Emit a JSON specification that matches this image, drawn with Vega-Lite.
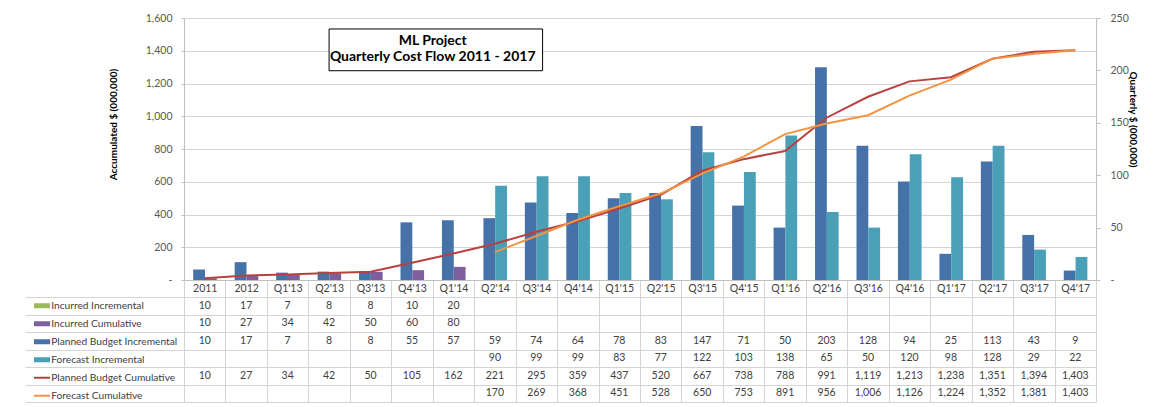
{
  "$schema": "https://vega.github.io/schema/vega-lite/v6.json",
  "background": "white",
  "padding": {"left": 24, "top": 13, "right": 5, "bottom": 2},
  "bounds": "flush",
  "spacing": 17,
  "config": {
    "font": "Lato",
    "view": {"stroke": null},
    "axis": {"labelFont": "Lato", "labelFontSize": 10.5, "labelColor": "#595959", "titleFont": "Lato", "titleFontSize": 10, "titleFontWeight": "bold", "titleColor": "#000000", "gridColor": "#d4d4d4", "domainColor": "#bfbfbf", "tickColor": "#bfbfbf"}
  },
  "data": {"values": [
    {"q": "2011", "s": "Incurred Incremental", "v": 10},
    {"q": "2012", "s": "Incurred Incremental", "v": 17},
    {"q": "Q1'13", "s": "Incurred Incremental", "v": 7},
    {"q": "Q2'13", "s": "Incurred Incremental", "v": 8},
    {"q": "Q3'13", "s": "Incurred Incremental", "v": 8},
    {"q": "Q4'13", "s": "Incurred Incremental", "v": 10},
    {"q": "Q1'14", "s": "Incurred Incremental", "v": 20},
    {"q": "2011", "s": "Incurred Cumulative", "v": 10},
    {"q": "2012", "s": "Incurred Cumulative", "v": 27},
    {"q": "Q1'13", "s": "Incurred Cumulative", "v": 34},
    {"q": "Q2'13", "s": "Incurred Cumulative", "v": 42},
    {"q": "Q3'13", "s": "Incurred Cumulative", "v": 50},
    {"q": "Q4'13", "s": "Incurred Cumulative", "v": 60},
    {"q": "Q1'14", "s": "Incurred Cumulative", "v": 80},
    {"q": "2011", "s": "Planned Budget Incremental", "v": 10},
    {"q": "2012", "s": "Planned Budget Incremental", "v": 17},
    {"q": "Q1'13", "s": "Planned Budget Incremental", "v": 7},
    {"q": "Q2'13", "s": "Planned Budget Incremental", "v": 8},
    {"q": "Q3'13", "s": "Planned Budget Incremental", "v": 8},
    {"q": "Q4'13", "s": "Planned Budget Incremental", "v": 55},
    {"q": "Q1'14", "s": "Planned Budget Incremental", "v": 57},
    {"q": "Q2'14", "s": "Planned Budget Incremental", "v": 59},
    {"q": "Q3'14", "s": "Planned Budget Incremental", "v": 74},
    {"q": "Q4'14", "s": "Planned Budget Incremental", "v": 64},
    {"q": "Q1'15", "s": "Planned Budget Incremental", "v": 78},
    {"q": "Q2'15", "s": "Planned Budget Incremental", "v": 83},
    {"q": "Q3'15", "s": "Planned Budget Incremental", "v": 147},
    {"q": "Q4'15", "s": "Planned Budget Incremental", "v": 71},
    {"q": "Q1'16", "s": "Planned Budget Incremental", "v": 50},
    {"q": "Q2'16", "s": "Planned Budget Incremental", "v": 203},
    {"q": "Q3'16", "s": "Planned Budget Incremental", "v": 128},
    {"q": "Q4'16", "s": "Planned Budget Incremental", "v": 94},
    {"q": "Q1'17", "s": "Planned Budget Incremental", "v": 25},
    {"q": "Q2'17", "s": "Planned Budget Incremental", "v": 113},
    {"q": "Q3'17", "s": "Planned Budget Incremental", "v": 43},
    {"q": "Q4'17", "s": "Planned Budget Incremental", "v": 9},
    {"q": "Q2'14", "s": "Forecast Incremental", "v": 90},
    {"q": "Q3'14", "s": "Forecast Incremental", "v": 99},
    {"q": "Q4'14", "s": "Forecast Incremental", "v": 99},
    {"q": "Q1'15", "s": "Forecast Incremental", "v": 83},
    {"q": "Q2'15", "s": "Forecast Incremental", "v": 77},
    {"q": "Q3'15", "s": "Forecast Incremental", "v": 122},
    {"q": "Q4'15", "s": "Forecast Incremental", "v": 103},
    {"q": "Q1'16", "s": "Forecast Incremental", "v": 138},
    {"q": "Q2'16", "s": "Forecast Incremental", "v": 65},
    {"q": "Q3'16", "s": "Forecast Incremental", "v": 50},
    {"q": "Q4'16", "s": "Forecast Incremental", "v": 120},
    {"q": "Q1'17", "s": "Forecast Incremental", "v": 98},
    {"q": "Q2'17", "s": "Forecast Incremental", "v": 128},
    {"q": "Q3'17", "s": "Forecast Incremental", "v": 29},
    {"q": "Q4'17", "s": "Forecast Incremental", "v": 22},
    {"q": "2011", "s": "Planned Budget Cumulative", "v": 10},
    {"q": "2012", "s": "Planned Budget Cumulative", "v": 27},
    {"q": "Q1'13", "s": "Planned Budget Cumulative", "v": 34},
    {"q": "Q2'13", "s": "Planned Budget Cumulative", "v": 42},
    {"q": "Q3'13", "s": "Planned Budget Cumulative", "v": 50},
    {"q": "Q4'13", "s": "Planned Budget Cumulative", "v": 105},
    {"q": "Q1'14", "s": "Planned Budget Cumulative", "v": 162},
    {"q": "Q2'14", "s": "Planned Budget Cumulative", "v": 221},
    {"q": "Q3'14", "s": "Planned Budget Cumulative", "v": 295},
    {"q": "Q4'14", "s": "Planned Budget Cumulative", "v": 359},
    {"q": "Q1'15", "s": "Planned Budget Cumulative", "v": 437},
    {"q": "Q2'15", "s": "Planned Budget Cumulative", "v": 520},
    {"q": "Q3'15", "s": "Planned Budget Cumulative", "v": 667},
    {"q": "Q4'15", "s": "Planned Budget Cumulative", "v": 738},
    {"q": "Q1'16", "s": "Planned Budget Cumulative", "v": 788},
    {"q": "Q2'16", "s": "Planned Budget Cumulative", "v": 991},
    {"q": "Q3'16", "s": "Planned Budget Cumulative", "v": 1119},
    {"q": "Q4'16", "s": "Planned Budget Cumulative", "v": 1213},
    {"q": "Q1'17", "s": "Planned Budget Cumulative", "v": 1238},
    {"q": "Q2'17", "s": "Planned Budget Cumulative", "v": 1351},
    {"q": "Q3'17", "s": "Planned Budget Cumulative", "v": 1394},
    {"q": "Q4'17", "s": "Planned Budget Cumulative", "v": 1403},
    {"q": "Q2'14", "s": "Forecast Cumulative", "v": 170},
    {"q": "Q3'14", "s": "Forecast Cumulative", "v": 269},
    {"q": "Q4'14", "s": "Forecast Cumulative", "v": 368},
    {"q": "Q1'15", "s": "Forecast Cumulative", "v": 451},
    {"q": "Q2'15", "s": "Forecast Cumulative", "v": 528},
    {"q": "Q3'15", "s": "Forecast Cumulative", "v": 650},
    {"q": "Q4'15", "s": "Forecast Cumulative", "v": 753},
    {"q": "Q1'16", "s": "Forecast Cumulative", "v": 891},
    {"q": "Q2'16", "s": "Forecast Cumulative", "v": 956},
    {"q": "Q3'16", "s": "Forecast Cumulative", "v": 1006},
    {"q": "Q4'16", "s": "Forecast Cumulative", "v": 1126},
    {"q": "Q1'17", "s": "Forecast Cumulative", "v": 1224},
    {"q": "Q2'17", "s": "Forecast Cumulative", "v": 1352},
    {"q": "Q3'17", "s": "Forecast Cumulative", "v": 1381},
    {"q": "Q4'17", "s": "Forecast Cumulative", "v": 1403}
  ]},
  "vconcat": [
    {
      "width": 912,
      "height": 262,
      "layer": [
        {
          "layer": [
            {
              "transform": [{"filter": {"field": "s", "equal": "Planned Budget Incremental"}}],
              "mark": {"type": "bar", "width": {"band": 0.285}, "xOffset": -5.6, "color": "#4572a8"},
              "encoding": {
                "x": {"field": "q", "type": "nominal", "title": null,
                  "scale": {"domain": ["2011","2012","Q1'13","Q2'13","Q3'13","Q4'13","Q1'14","Q2'14","Q3'14","Q4'14","Q1'15","Q2'15","Q3'15","Q4'15","Q1'16","Q2'16","Q3'16","Q4'16","Q1'17","Q2'17","Q3'17","Q4'17"], "paddingInner": 0, "paddingOuter": 0},
                  "axis": {"title": null, "labelAngle": 0, "tickBand": "extent", "tickSize": 17, "labelPadding": -14, "labelColor": "#404040", "tickColor": "#d4d4d4", "domainColor": "#bfbfbf", "grid": false}},
                "y": {"field": "v", "type": "quantitative", "scale": {"domain": [0, 250], "nice": false},
                  "axis": {"orient": "right", "title": "Quarterly $ (000,000)", "values": [0, 50, 100, 150, 200, 250], "labelExpr": "datum.value === 0 ? '-' : format(datum.value, ',.0f')", "grid": false, "tickSize": 4, "labelPadding": 10, "titleAngle": 90, "titleX": 31, "titleY": 101}}
              }
            },
            {
              "transform": [{"filter": {"field": "s", "equal": "Forecast Incremental"}}],
              "mark": {"type": "bar", "width": {"band": 0.285}, "xOffset": 6.2, "color": "#4aa0b6"},
              "encoding": {
                "x": {"field": "q", "type": "nominal"},
                "y": {"field": "v", "type": "quantitative",
                  "axis": {"orient": "right", "title": "Quarterly $ (000,000)", "values": [0, 50, 100, 150, 200, 250], "labelExpr": "datum.value === 0 ? '-' : format(datum.value, ',.0f')", "grid": false, "tickSize": 4, "labelPadding": 10, "titleAngle": 90, "titleX": 31, "titleY": 101}}
              }
            }
          ]
        },
        {
          "layer": [
            {
              "transform": [{"filter": {"field": "s", "equal": "Incurred Cumulative"}}],
              "mark": {"type": "bar", "width": {"band": 0.285}, "xOffset": 6.2, "color": "#7d5fa0"},
              "encoding": {
                "x": {"field": "q", "type": "nominal"},
                "y": {"field": "v", "type": "quantitative", "scale": {"domain": [0, 1600], "nice": false},
                  "axis": {"orient": "left", "title": "Accumulated $ (000,000)", "values": [0, 200, 400, 600, 800, 1000, 1200, 1400, 1600], "labelExpr": "datum.value === 0 ? '-' : format(datum.value, ',.0f')", "grid": true, "tickSize": 3, "labelPadding": 9, "labelOverlap": false, "titleX": -66, "titleY": 106}}
              }
            },
            {
              "data": {"values": [{}]},
              "mark": {"type": "rect", "fill": "white", "stroke": "#000000", "strokeWidth": 1},
              "encoding": {
                "x": {"datum": "Q2'13", "bandPosition": 0.5},
                "x2": {"datum": "Q3'14", "bandPosition": 0.65},
                "y": {"datum": 1533, "type": "quantitative",
                  "axis": {"orient": "left", "title": "Accumulated $ (000,000)", "values": [0, 200, 400, 600, 800, 1000, 1200, 1400, 1600], "labelExpr": "datum.value === 0 ? '-' : format(datum.value, ',.0f')", "grid": true, "tickSize": 3, "labelPadding": 9, "labelOverlap": false, "titleX": -66, "titleY": 106}},
                "y2": {"datum": 1278}
              }
            },
            {
              "data": {"values": [{}]},
              "mark": {"type": "text", "text": "ML Project", "fontSize": 14, "fontWeight": "bold", "color": "#000000", "align": "center", "baseline": "middle"},
              "encoding": {
                "x": {"datum": "Q1'14", "bandPosition": 0},
                "y": {"datum": 1461, "type": "quantitative",
                  "axis": {"orient": "left", "title": "Accumulated $ (000,000)", "values": [0, 200, 400, 600, 800, 1000, 1200, 1400, 1600], "labelExpr": "datum.value === 0 ? '-' : format(datum.value, ',.0f')", "grid": true, "tickSize": 3, "labelPadding": 9, "labelOverlap": false, "titleX": -66, "titleY": 106}}
              }
            },
            {
              "data": {"values": [{}]},
              "mark": {"type": "text", "text": "Quarterly Cost Flow 2011 - 2017", "fontSize": 14, "fontWeight": "bold", "color": "#000000", "align": "center", "baseline": "middle"},
              "encoding": {
                "x": {"datum": "Q1'14", "bandPosition": 0},
                "y": {"datum": 1360, "type": "quantitative",
                  "axis": {"orient": "left", "title": "Accumulated $ (000,000)", "values": [0, 200, 400, 600, 800, 1000, 1200, 1400, 1600], "labelExpr": "datum.value === 0 ? '-' : format(datum.value, ',.0f')", "grid": true, "tickSize": 3, "labelPadding": 9, "labelOverlap": false, "titleX": -66, "titleY": 106}}
              }
            },
            {
              "transform": [{"filter": {"field": "s", "equal": "Planned Budget Cumulative"}}],
              "mark": {"type": "line", "color": "#b8423f", "strokeWidth": 2},
              "encoding": {
                "x": {"field": "q", "type": "nominal"},
                "y": {"field": "v", "type": "quantitative",
                  "axis": {"orient": "left", "title": "Accumulated $ (000,000)", "values": [0, 200, 400, 600, 800, 1000, 1200, 1400, 1600], "labelExpr": "datum.value === 0 ? '-' : format(datum.value, ',.0f')", "grid": true, "tickSize": 3, "labelPadding": 9, "labelOverlap": false, "titleX": -66, "titleY": 106}}
              }
            },
            {
              "transform": [{"filter": {"field": "s", "equal": "Forecast Cumulative"}}],
              "mark": {"type": "line", "color": "#f39442", "strokeWidth": 2},
              "encoding": {
                "x": {"field": "q", "type": "nominal"},
                "y": {"field": "v", "type": "quantitative",
                  "axis": {"orient": "left", "title": "Accumulated $ (000,000)", "values": [0, 200, 400, 600, 800, 1000, 1200, 1400, 1600], "labelExpr": "datum.value === 0 ? '-' : format(datum.value, ',.0f')", "grid": true, "tickSize": 3, "labelPadding": 9, "labelOverlap": false, "titleX": -66, "titleY": 106}}
              }
            }
          ]
        }
      ],
      "resolve": {"scale": {"y": "independent"}, "axis": {"y": "independent"}}
    },
    {
      "width": 912,
      "height": 105,
      "layer": [
        {
          "mark": {"type": "text", "fontSize": 10.5, "color": "#404040"},
          "encoding": {
            "x": {"field": "q", "type": "nominal",
              "scale": {"domain": ["2011","2012","Q1'13","Q2'13","Q3'13","Q4'13","Q1'14","Q2'14","Q3'14","Q4'14","Q1'15","Q2'15","Q3'15","Q4'15","Q1'16","Q2'16","Q3'16","Q4'16","Q1'17","Q2'17","Q3'17","Q4'17"], "paddingInner": 0, "paddingOuter": 0},
              "axis": {"title": null, "labels": false, "ticks": false, "domain": false, "grid": true, "tickBand": "extent", "gridColor": "#d4d4d4"}},
            "y": {"field": "s", "type": "nominal",
              "scale": {"domain": ["Incurred Incremental","Incurred Cumulative","Planned Budget Incremental","Forecast Incremental","Planned Budget Cumulative","Forecast Cumulative"], "paddingInner": 0, "paddingOuter": 0},
              "axis": {"title": null, "labels": false, "ticks": true, "tickSize": 159, "tickBand": "extent", "tickColor": "#d4d4d4", "domain": true, "domainColor": "#d4d4d4", "grid": true, "gridColor": "#d4d4d4"}},
            "text": {"field": "v", "type": "quantitative", "format": ","}
          }
        },
        {
          "mark": {"type": "point", "filled": true, "opacity": 0},
          "encoding": {
            "color": {"field": "s", "type": "nominal",
              "scale": {"domain": ["Incurred Incremental","Incurred Cumulative","Planned Budget Incremental","Forecast Incremental","Planned Budget Cumulative","Forecast Cumulative"], "range": ["#9bbb59","#7d5fa0","#4572a8","#4aa0b6","#b8423f","#f39442"]},
              "legend": {"orient": "none", "legendX": -150, "legendY": 279, "title": null, "clipHeight": 17.5, "rowPadding": 0, "padding": 0, "symbolSize": 64, "symbolStrokeWidth": 0, "symbolOpacity": 1, "labelFont": "Lato", "labelFontSize": 10.2, "labelColor": "#404040", "labelOffset": 7, "labelLimit": 0}},
            "shape": {"field": "s", "type": "nominal",
              "scale": {"domain": ["Incurred Incremental","Incurred Cumulative","Planned Budget Incremental","Forecast Incremental","Planned Budget Cumulative","Forecast Cumulative"], "range": ["M-2.75,-0.6H2.75V0.6H-2.75Z","M-2.75,-0.6H2.75V0.6H-2.75Z","M-2.75,-0.6H2.75V0.6H-2.75Z","M-2.75,-0.6H2.75V0.6H-2.75Z","M-2.75,-0.25H2.75V0.25H-2.75Z","M-2.75,-0.25H2.75V0.25H-2.75Z"]},
              "legend": {"orient": "none", "legendX": -150, "legendY": 279, "title": null, "clipHeight": 17.5, "rowPadding": 0, "padding": 0, "symbolSize": 64, "symbolStrokeWidth": 0, "symbolOpacity": 1, "labelFont": "Lato", "labelFontSize": 10.2, "labelColor": "#404040", "labelOffset": 7, "labelLimit": 0}}
          }
        }
      ]
    }
  ]
}
